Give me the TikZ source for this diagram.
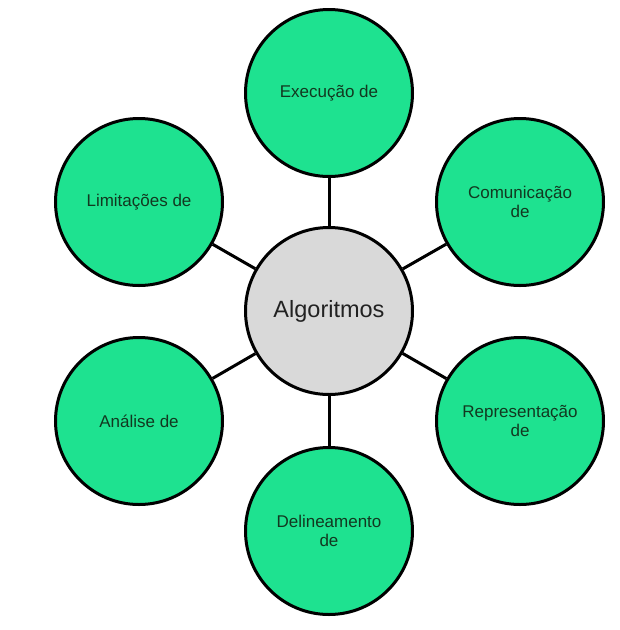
\documentclass[tikz,border=0pt]{standalone}
\usepackage{fontspec}
\setmainfont{Liberation Sans}
\definecolor{leaf}{RGB}{30,226,144}
\definecolor{hub}{RGB}{217,217,217}
\definecolor{leaftext}{RGB}{18,56,32}
\definecolor{hubtext}{RGB}{34,34,34}
\begin{document}
\begin{tikzpicture}[x=1pt,y=-1pt,
  hubnode/.style={circle,draw=black,line width=3pt,fill=hub,minimum size=167pt,inner sep=0pt,
    font=\fontsize{23.5}{27}\selectfont,text=hubtext,align=center},
  leafnode/.style={circle,draw=black,line width=3pt,fill=leaf,minimum size=167pt,inner sep=0pt,
    font=\fontsize{17}{19.5}\selectfont,text=leaftext,align=center},
  link/.style={draw=black,line width=3pt}]
\useasboundingbox (0,0) rectangle (620,630);
\fill[white] (0,0) rectangle (620,630);
\node[hubnode] (c) at (329,311) {Algoritmos};
\node[leafnode] (top) at (329,93) {Execução de};
\node[leafnode] (tr) at (520,202) {Comunicação\\de};
\node[leafnode] (br) at (520,421) {Representação\\de};
\node[leafnode] (bot) at (329,531) {Delineamento\\de};
\node[leafnode] (bl) at (139,421) {Análise de};
\node[leafnode] (tl) at (139,202) {Limitações de};
\foreach \n in {top,tr,br,bot,bl,tl} {\draw[link] (c) -- (\n);}
\end{tikzpicture}
\end{document}
